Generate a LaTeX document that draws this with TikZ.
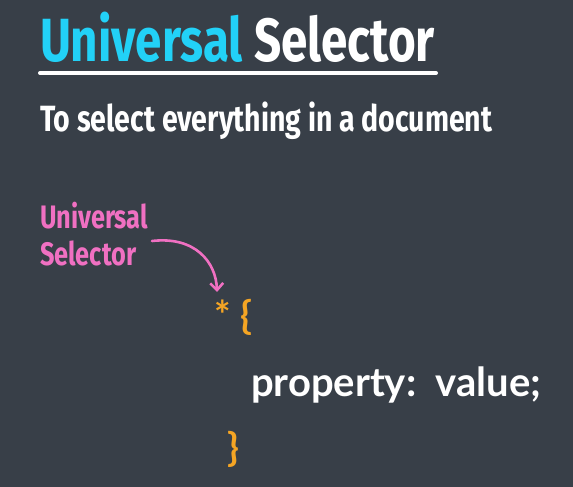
\documentclass[tikz,border=0pt]{standalone}
\usepackage{fontspec}
\usetikzlibrary{arrows.meta}
\newfontfamily\condfont[FakeStretch=0.78]{Fira Sans}
\newfontfamily\codefont{Lato}
\definecolor{bgc}{HTML}{383F48}
\definecolor{cyanc}{HTML}{22D1F7}
\definecolor{pinkc}{HTML}{F070C2}
\definecolor{orangec}{HTML}{F5A524}
\begin{document}
\begin{tikzpicture}[x=1pt,y=-1pt,
  txt/.style={inner sep=0pt,outer sep=0pt,anchor=base west},
  code/.style={txt,font=\codefont\bfseries\fontsize{39}{42}\selectfont}]
\fill[bgc] (0,0) rectangle (573,487);
\useasboundingbox (0,0) rectangle (573,487);
\node[txt,font=\condfont\bfseries\fontsize{61}{64}\selectfont] (title) at (40,62)
  {\textcolor{cyanc}{Universal} \textcolor{white}{Selector}};
\draw[white,line width=4pt,line cap=round] (40,73) coordinate (ul1) -- (436,73) coordinate (ul2);
\node[txt,white,font=\condfont\bfseries\fontsize{36.5}{40}\selectfont] (sub) at (40,131)
  {To select everything in a document};
\node[txt,pinkc,font=\condfont\bfseries\fontsize{32.5}{36}\selectfont] (l1) at (40,228) {Universal};
\node[txt,pinkc,font=\condfont\bfseries\fontsize{32.5}{36}\selectfont] (l2) at (40,265) {Selector};
\node[code,orangec] (open) at (214,329) {* \{};
\node[code,white,font=\codefont\bfseries\fontsize{40}{43}\selectfont] (prop) at (251,396) {property:\ \ value;};
\node[code,orangec] (close) at (227,461) {\}};
\coordinate (as) at (152,241);
\draw[pinkc,line width=2.6pt,line cap=round,-{Straight Barb[length=7pt,width=13pt,line width=2.6pt]}]
  (as) .. controls (195,236) and (216,262) .. (217,292);
\end{tikzpicture}
\end{document}
